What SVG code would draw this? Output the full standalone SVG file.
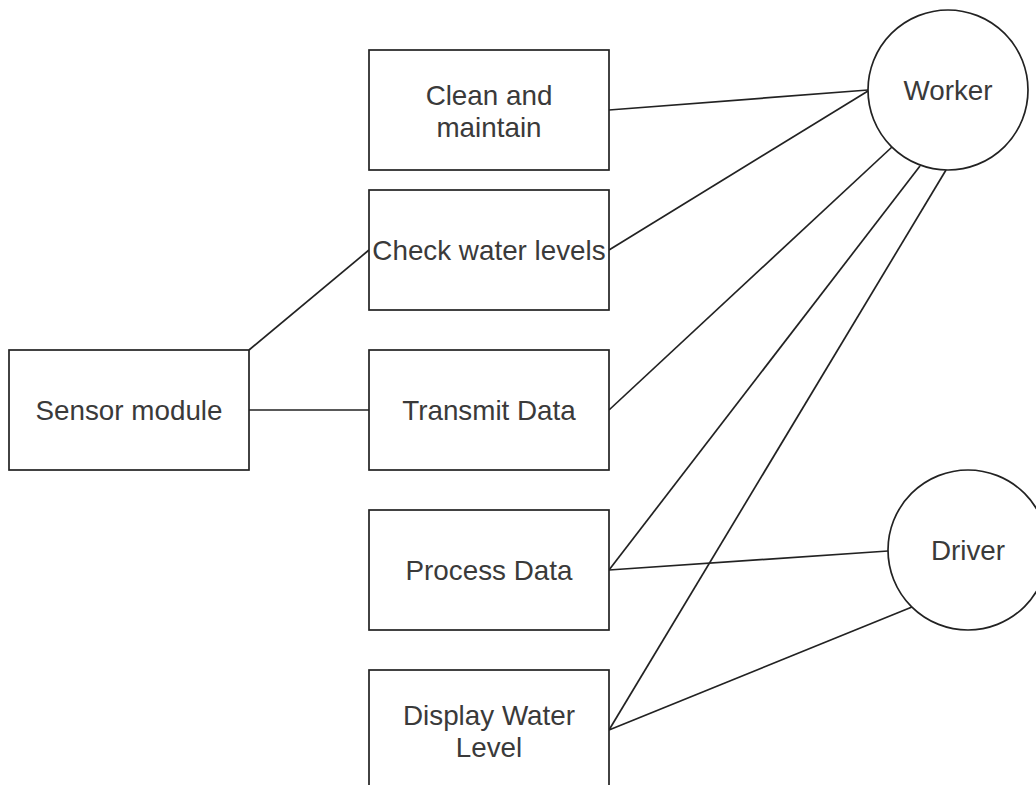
<svg xmlns="http://www.w3.org/2000/svg" width="1036" height="785" viewBox="0 0 1036 785">
<style>
.box{fill:#fff;stroke:#222;stroke-width:1.7}
.lbl{font-family:"Liberation Sans",Arial,sans-serif;font-size:27.8px;fill:#3a3a3a;text-anchor:middle}
.edge{stroke:#222;stroke-width:1.7;fill:none}
</style>
<rect width="1036" height="785" fill="#fff"/>
<g id="connectors">
<line class="edge" x1="609" y1="110" x2="868" y2="90"/>
<line class="edge" x1="609" y1="250" x2="868" y2="91"/>
<line class="edge" x1="249" y1="350" x2="369" y2="250"/>
<line class="edge" x1="249" y1="410" x2="369" y2="410"/>
<line class="edge" x1="609" y1="410" x2="892" y2="147"/>
<line class="edge" x1="609" y1="570" x2="920" y2="166"/>
<line class="edge" x1="609" y1="730" x2="946" y2="170"/>
<line class="edge" x1="609" y1="570" x2="888" y2="551"/>
<line class="edge" x1="609" y1="730" x2="912" y2="607"/>
</g>
<g id="clean">
<rect class="box" x="369" y="50" width="240" height="120"/>
<text class="lbl" x="489" y="105">Clean and</text>
<text class="lbl" x="489" y="137">maintain</text>
</g>
<g id="check">
<rect class="box" x="369" y="190" width="240" height="120"/>
<text class="lbl" x="489" y="260">Check water levels</text>
</g>
<g id="sensor">
<rect class="box" x="9" y="350" width="240" height="120"/>
<text class="lbl" x="129" y="420">Sensor module</text>
</g>
<g id="transmit">
<rect class="box" x="369" y="350" width="240" height="120"/>
<text class="lbl" x="489" y="420">Transmit Data</text>
</g>
<g id="process">
<rect class="box" x="369" y="510" width="240" height="120"/>
<text class="lbl" x="489" y="580">Process Data</text>
</g>
<g id="display">
<rect class="box" x="369" y="670" width="240" height="130"/>
<text class="lbl" x="489" y="725">Display Water</text>
<text class="lbl" x="489" y="757">Level</text>
</g>
<g id="worker">
<circle class="box" cx="948" cy="90" r="80"/>
<text class="lbl" x="948" y="100">Worker</text>
</g>
<g id="driver">
<circle class="box" cx="968" cy="550" r="80"/>
<text class="lbl" x="968" y="560">Driver</text>
</g>
</svg>
